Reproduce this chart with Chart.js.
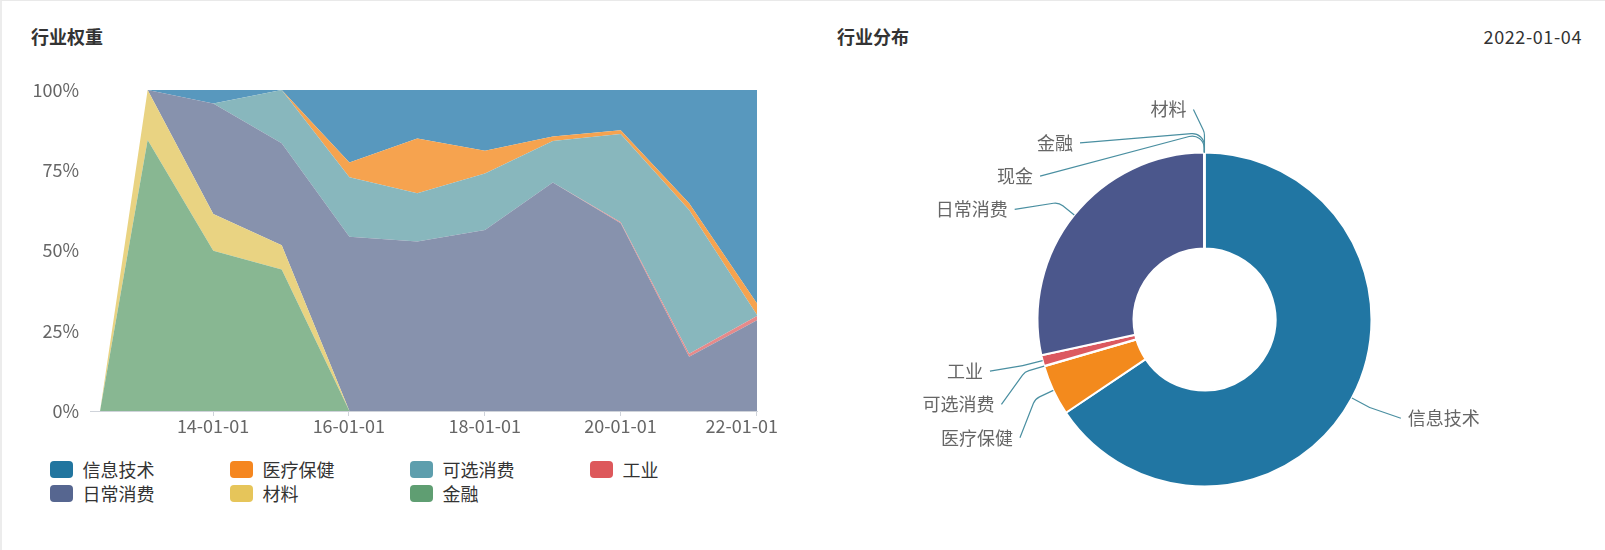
<!DOCTYPE html>
<html>
<head>
<meta charset="utf-8">
<script src="https://cdn.jsdelivr.net/npm/chart.js@4.4.0/dist/chart.umd.min.js"></script>
<style>
html,body{margin:0;padding:0;background:#fff;}
body{width:1605px;height:550px;position:relative;overflow:hidden;font-family:"Noto Sans CJK SC","Noto Sans",sans-serif;}
#frame{position:absolute;left:0;top:0;width:1605px;height:550px;border-top:1px solid #e9e9e9;border-left:2px solid #ececec;box-sizing:border-box;}
.title{position:absolute;top:24px;line-height:24px;font-size:18px;font-weight:bold;color:#333;white-space:nowrap;}
#date{position:absolute;top:24px;right:23px;line-height:24px;font-size:18px;letter-spacing:0.6px;color:#333;}
#leftWrap{position:absolute;left:0;top:0;width:800px;height:450px;}
#rightWrap{position:absolute;left:820px;top:0;width:770px;height:550px;}
.lg{position:absolute;height:24px;line-height:24px;font-size:18px;color:#333;white-space:nowrap;}
.lg .box{position:absolute;left:0;top:3.5px;width:23px;height:17px;border-radius:4px;}
.lg .txt{position:absolute;left:32.5px;top:0;}
</style>
</head>
<body>
<div id="frame"></div>
<div class="title" style="left:31px">行业权重</div>
<div class="title" style="left:837px">行业分布</div>
<div id="date"></div>
<div id="leftWrap"><canvas id="area"></canvas></div>
<div id="rightWrap"><canvas id="pie"></canvas></div>
<div id="legend"></div>
<script>
// ---------------- data ----------------
const dates = ['2012-05-03','2013-01-14','2014-01-02','2015-01-05','2016-01-04','2017-01-03','2018-01-02','2019-01-02','2020-01-02','2021-01-04','2022-01-04'];
const itTech        = [0, 0,    4.2,  0,    22.6, 15.1, 18.9, 14.5, 12.5, 35.3, 66.5];
const health        = [0, 0,    0,    0,    4.6,  17.1, 7.1,  1.4,  1.2,  2.1,  3.6];
const discretionary = [0, 0,    0,    16.6, 18.5, 15.0, 17.6, 12.9, 27.5, 44.8, 0.3];
const industrial    = [0, 0,    0,    0,    0,    0,    0,    0,    0.3,  0.9,  1.3];
const staples       = [0, 0,    34.4, 31.8, 54.3, 52.8, 56.4, 71.2, 58.5, 16.9, 28.3];
const materials     = [0, 15.6, 11.5, 7.5,  0,    0,    0,    0,    0,    0,    0];
const financials    = [0, 84.4, 49.9, 44.1, 0,    0,    0,    0,    0,    0,    0];

const legendOrder = ['信息技术','医疗保健','可选消费','工业','日常消费','材料','金融'];
const stackOrder  = ['金融','材料','日常消费','工业','可选消费','医疗保健','信息技术'];

const xTickDates  = ['2014-01-01','2016-01-01','2018-01-01','2020-01-01','2022-01-01'];
const xTickLabels = ['14-01-01','16-01-01','18-01-01','20-01-01','22-01-01'];
const xAxisRange  = ['2012-03-10','2022-01-04'];
const yTicks      = [0, 25, 50, 75, 100];

const pieDate   = '2022-01-04';
const pieLabels = ['信息技术','医疗保健','可选消费','工业','日常消费','现金','金融','材料'];
const pieValues = [65.6, 4.9, 0.05, 1.05, 28.4, 0.02, 0.01, 0.01];

// ---------------- styles ----------------
const seriesValues = {'信息技术':itTech,'医疗保健':health,'可选消费':discretionary,'工业':industrial,'日常消费':staples,'材料':materials,'金融':financials};
const legendColors = {'信息技术':'#21759f','医疗保健':'#f5861f','可选消费':'#5d9ead','工业':'#dd585b','日常消费':'#566690','材料':'#e6c55a','金融':'#5f9e72'};
const areaColors   = {'信息技术':'#5898be','医疗保健':'#f6a34f','可选消费':'#88b7bd','工业':'#e68a8a','日常消费':'#8792ad','材料':'#e9d382','金融':'#88b792'};
const pieColors    = ['#2176a3','#f38a1d','#5d9ead','#dc5960','#4b578c','#9aa5b1','#5f9e72','#e6c55a'];

Chart.defaults.font.family = '"Noto Sans CJK SC","Noto Sans",sans-serif';
Chart.defaults.font.size = 18;
Chart.defaults.color = '#666';

document.getElementById('date').textContent = pieDate;

// legend (HTML, 4 columns)
const lgEl = document.getElementById('legend');
legendOrder.forEach((name, i) => {
  const d = document.createElement('div');
  d.className = 'lg';
  d.style.left = (50 + (i % 4) * 180) + 'px';
  d.style.top = (457 + Math.floor(i / 4) * 24) + 'px';
  d.innerHTML = '<span class="box" style="background:' + legendColors[name] + '"></span><span class="txt">' + name + '</span>';
  lgEl.appendChild(d);
});

// keep the last x label inside the panel (as the original does)
const keepLastLabelInside = {
  id: 'keepLastLabelInside',
  beforeDraw(chart) {
    const sc = chart.scales.x;
    const items = sc.getLabelItems(chart.chartArea);
    if (!items.length) return;
    const last = items[items.length - 1];
    const limit = chart.width - 22;
    const w = sc.ctx ? (() => { const c = chart.ctx; c.save(); c.font = '18px "Noto Sans CJK SC"'; const m = c.measureText(last.label).width; c.restore(); return m; })() : 0;
    const rightEdge = last.options.translation[0] + w / 2;
    if (rightEdge > limit) last.options.translation[0] -= (rightEdge - limit);
  }
};

// ---------------- stacked area ----------------
new Chart(document.getElementById('area'), {
  type: 'line',
  data: {
    datasets: stackOrder.map((name, i) => ({
      label: name,
      data: dates.map((d, j) => ({x: Date.parse(d), y: seriesValues[name][j]})),
      backgroundColor: areaColors[name],
      borderColor: areaColors[name],
      borderWidth: 0,
      pointRadius: 0,
      tension: 0,
      fill: i === 0 ? 'origin' : '-1'
    }))
  },
  options: {
    responsive: true,
    maintainAspectRatio: false,
    animation: false,
    layout: {padding: {top: 90, left: 0, right: 43, bottom: 9}},
    plugins: {legend: {display: false}, tooltip: {enabled: false}},
    scales: {
      x: {
        type: 'linear',
        min: Date.parse(xAxisRange[0]),
        max: Date.parse(xAxisRange[1]),
        afterBuildTicks: s => { s.ticks = xTickDates.map(d => ({value: Date.parse(d)})); },
        afterFit: s => { s.height = 30; },
        grid: {display: true, drawOnChartArea: false, drawTicks: true, tickLength: 5, color: '#cfd3da'},
        border: {display: true, color: '#cfd3da'},
        ticks: {autoSkip: false, maxRotation: 0, padding: -1, color: '#666',
                callback: (v, i) => xTickLabels[i]}
      },
      y: {
        stacked: true,
        min: 0, max: 100,
        afterBuildTicks: s => { s.ticks = yTicks.map(v => ({value: v})); },
        afterFit: s => { s.width = 90; },
        grid: {display: false, drawTicks: false},
        border: {display: false},
        ticks: {padding: 11, color: '#666', callback: v => v + '%'}
      }
    }
  },
  plugins: [keepLastLabelInside]
});

// ---------------- doughnut ----------------
const pieLabelPlugin = {
  id: 'pieOuterLabels',
  afterDatasetsDraw(chart) {
    const meta = chart.getDatasetMeta(0);
    const ctx = chart.ctx;
    const items = meta.data.map((arc, i) => {
      const p = arc.getProps(['x','y','startAngle','endAngle','outerRadius'], true);
      const a = (p.startAngle + p.endAngle) / 2;
      const R = p.outerRadius + 43;
      return {i, a, cx: p.x, cy: p.y, r: p.outerRadius, R, left: Math.cos(a) < 0, y: p.y + R * Math.sin(a)};
    });
    const lineH = 33.3;
    [true, false].forEach(side => {
      const g = items.filter(it => it.left === side).sort((m, n) => m.y - n.y);
      for (let k = 1; k < g.length; k++) {
        if (g[k].y < g[k-1].y + lineH) g[k].y = g[k-1].y + lineH;
      }
    });
    ctx.save();
    ctx.font = '18px "Noto Sans CJK SC", sans-serif';
    ctx.textBaseline = 'middle';
    items.forEach(it => {
      const dy = it.y - it.cy;
      const dx = Math.abs(dy) < it.R ? Math.sqrt(it.R * it.R - dy * dy) : 0;
      const sgn = it.left ? -1 : 1;
      const textX = it.cx + sgn * (dx + 18);
      const p0 = {x: it.cx + it.r * Math.cos(it.a), y: it.cy + it.r * Math.sin(it.a)};
      const p1 = {x: it.cx + (it.r + 20) * Math.cos(it.a), y: it.cy + (it.r + 20) * Math.sin(it.a)};
      const p2 = {x: textX - sgn * 7, y: it.y};
      ctx.beginPath();
      ctx.moveTo(p0.x, p0.y);
      ctx.arcTo(p1.x, p1.y, p2.x, p2.y, 12);
      ctx.lineTo(p2.x, p2.y);
      ctx.strokeStyle = '#4a8fa1';
      ctx.lineWidth = 1.2;
      ctx.stroke();
      ctx.fillStyle = '#666';
      ctx.textAlign = it.left ? 'right' : 'left';
      ctx.fillText(chart.data.labels[it.i], textX, it.y);
    });
    ctx.restore();
  }
};

new Chart(document.getElementById('pie'), {
  type: 'doughnut',
  data: {
    labels: pieLabels,
    datasets: [{data: pieValues, backgroundColor: pieColors, borderColor: '#fff', borderWidth: 2}]
  },
  options: {
    responsive: true,
    maintainAspectRatio: false,
    animation: false,
    radius: 167,
    cutout: '42.5%',
    layout: {padding: {left: 184.5, right: 185.5, top: 119.5, bottom: 30.5}},
    plugins: {legend: {display: false}, tooltip: {enabled: false}}
  },
  plugins: [pieLabelPlugin]
});
</script>
</body>
</html>
